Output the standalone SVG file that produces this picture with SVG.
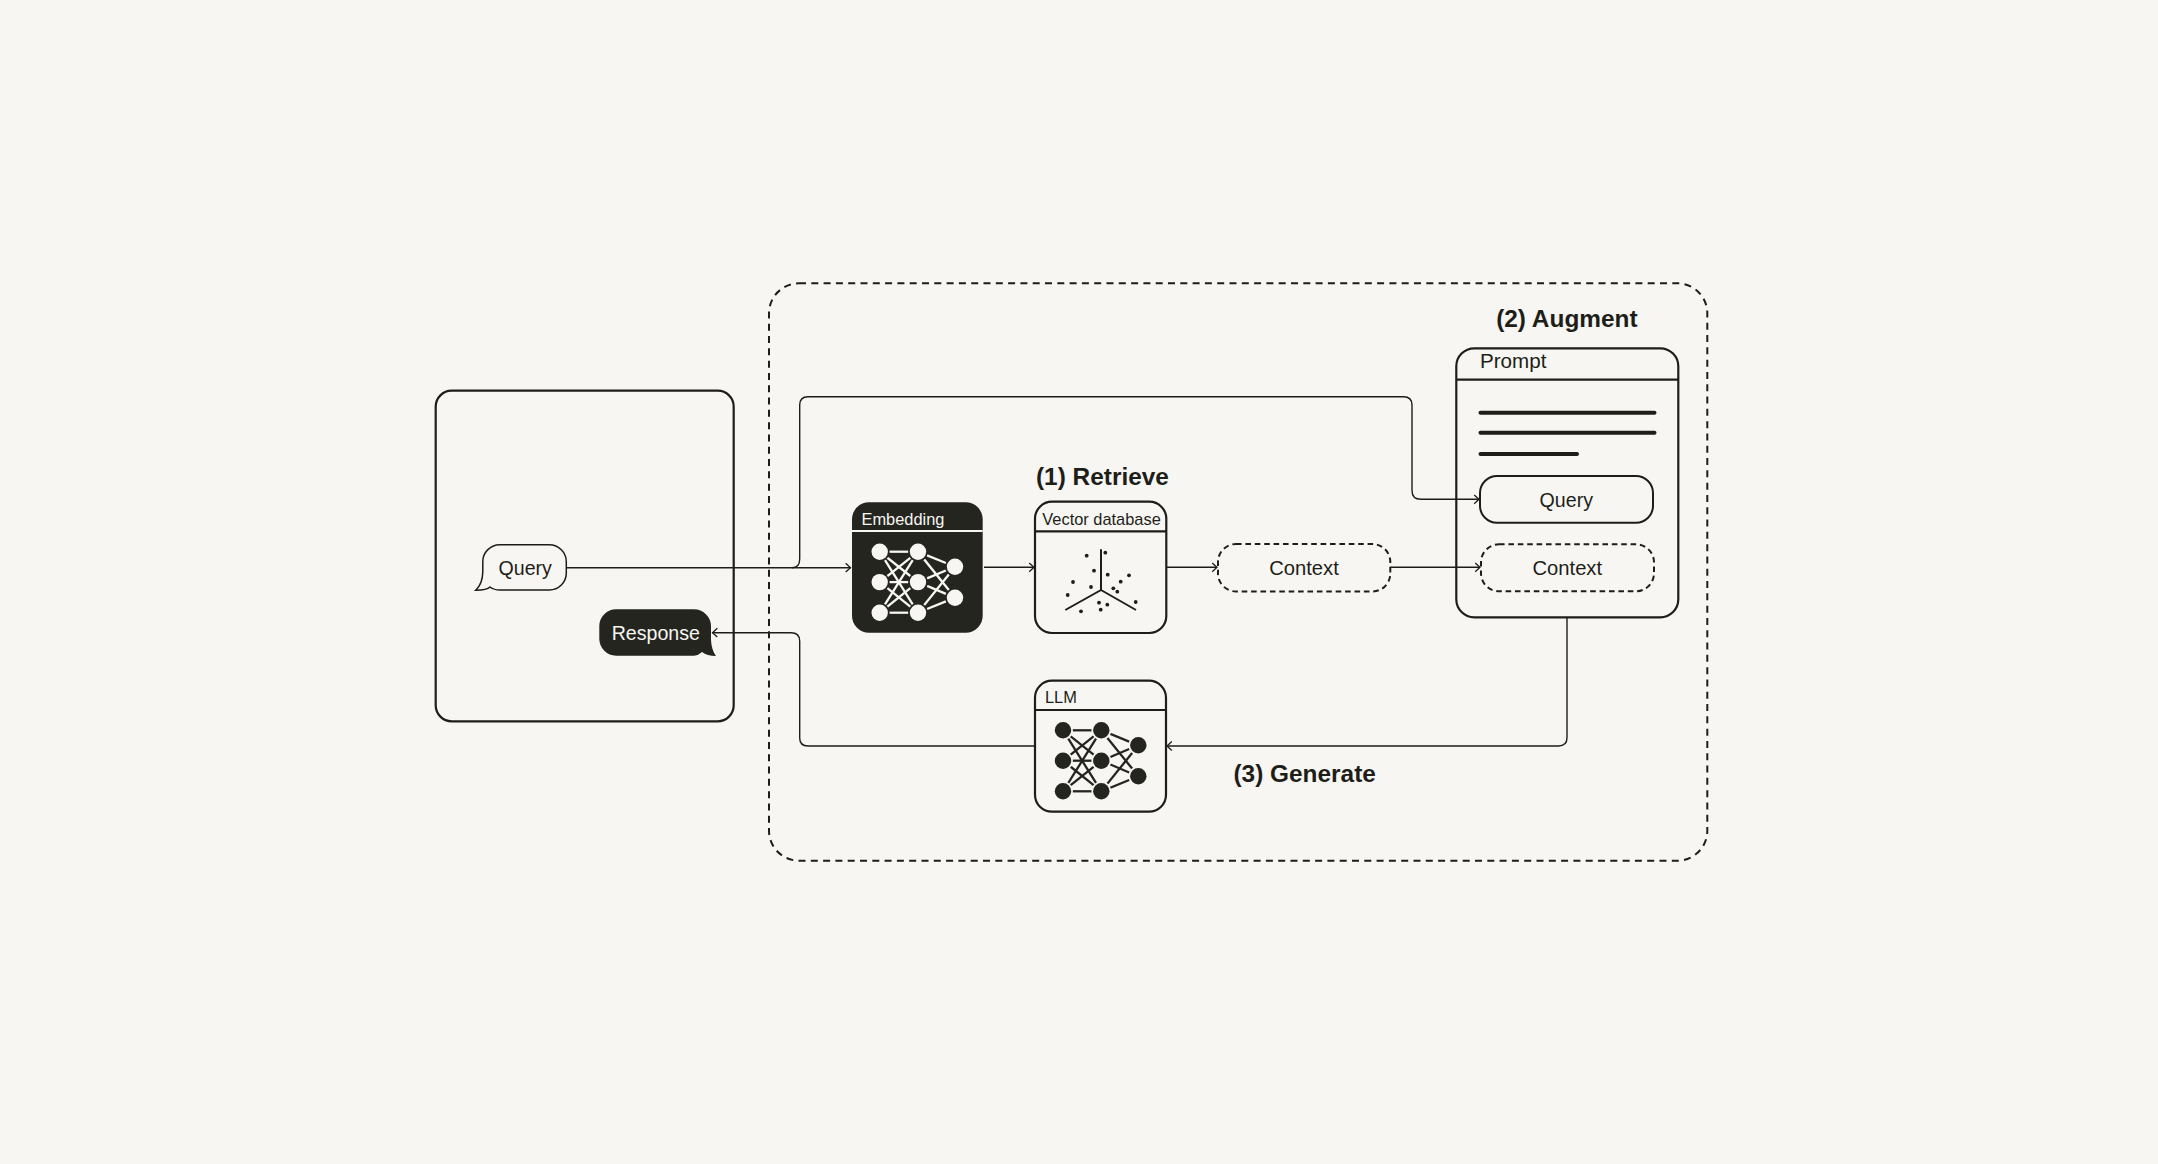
<svg xmlns="http://www.w3.org/2000/svg" width="2158" height="1164" viewBox="0 0 2158 1164">
<style>
text{font-family:"Liberation Sans",Arial,sans-serif;fill:#1e1e19}
.h{font-weight:700;font-size:24.4px}
.box{fill:none;stroke:#1e1e19;stroke-width:2.2}
.div{stroke:#1e1e19;stroke-width:2.2;fill:none}
.pill{fill:none;stroke:#1e1e19;stroke-width:2}
.bub{fill:none;stroke:#1e1e19;stroke-width:1.5}
.dash{fill:none;stroke:#1e1e19;stroke-width:2;stroke-dasharray:5.6 3.8}
.conn{fill:none;stroke:#1e1e19;stroke-width:1.4}
.arr{marker-end:url(#a)}
.bar{stroke:#1e1e19;stroke-width:4;stroke-linecap:round}
.net line{stroke:currentColor;stroke-width:2.3;stroke-linecap:square}
.net circle{fill:currentColor}
.lab{font-size:16.4px}
.t{font-size:19.6px}
.c{font-size:20.2px}
</style>
<defs>
<marker id="a" markerUnits="userSpaceOnUse" markerWidth="10" markerHeight="12" refX="7" refY="6" orient="auto"><path d="M2.2 1.6L7 6L2.2 10.4" fill="none" stroke="#1e1e19" stroke-width="1.3"/></marker>
<g id="net" class="net">
<line x1="11" y1="0" x2="27.3" y2="0"/><line x1="8.6" y1="6.8" x2="29.7" y2="23.6"/><line x1="5.9" y1="9.3" x2="32.4" y2="51.7"/>
<line x1="8.6" y1="23.6" x2="29.7" y2="6.8"/><line x1="11" y1="30.4" x2="27.3" y2="30.4"/><line x1="8.6" y1="37.2" x2="29.7" y2="54.2"/>
<line x1="5.9" y1="51.7" x2="32.4" y2="9.3"/><line x1="8.6" y1="54.2" x2="29.7" y2="37.2"/><line x1="11" y1="61" x2="27.3" y2="61"/>
<line x1="48.5" y1="4.1" x2="65.1" y2="10.9"/><line x1="45.2" y1="8.6" x2="68.4" y2="37.4"/><line x1="48.5" y1="26.2" x2="65.1" y2="19.2"/>
<line x1="48.5" y1="34.7" x2="65.1" y2="41.7"/><line x1="45.2" y1="52.4" x2="68.4" y2="23.6"/><line x1="48.5" y1="56.9" x2="65.1" y2="50.1"/>
<circle cx="0" cy="0" r="8.2"/><circle cx="0" cy="30.4" r="8.2"/><circle cx="0" cy="61" r="8.2"/>
<circle cx="38.3" cy="0" r="8.2"/><circle cx="38.3" cy="30.4" r="8.2"/><circle cx="38.3" cy="61" r="8.2"/>
<circle cx="75.3" cy="15" r="8.2"/><circle cx="75.3" cy="46" r="8.2"/>
</g>
</defs>
<rect width="2158" height="1164" fill="#f7f6f2"/>
<g id="rag-boundary"><rect x="769" y="283.3" width="938.3" height="577.4" rx="30" fill="none" stroke="#1e1e19" stroke-width="2" stroke-dasharray="7 5.3"/></g>
<g id="client"><rect class="box" x="435.7" y="390.7" width="298" height="330.6" rx="16"/></g>
<g id="query-bubble">
<path class="bub" d="M500 544.7H549.3A17 17 0 0 1 566.3 561.7V573A17 17 0 0 1 549.3 590H500Q494 590 490 587Q487 590 475.7 590.3Q482.5 584 482.8 572V561.7A17 17 0 0 1 500 544.7Z"/>
<text class="t" x="498.5" y="574.7">Query</text>
</g>
<g id="response-bubble">
<path fill="#252520" d="M616 609.3H694A17 17 0 0 1 711 626V640Q711.5 650 716 656Q707 656 702 652Q698 655.7 694 655.7H616A17 17 0 0 1 599.3 639V626A17 17 0 0 1 616 609.3Z"/>
<text class="t" x="611.7" y="640" style="fill:#f7f6f2">Response</text>
</g>
<g id="embedding">
<rect x="852" y="502.3" width="130.7" height="130.4" rx="17" fill="#252520"/>
<line x1="852" y1="531" x2="982.7" y2="531" stroke="#f7f6f2" stroke-width="2"/>
<text class="lab" x="861.5" y="524.7" style="fill:#f7f6f2">Embedding</text>
<use href="#net" x="879.7" y="551.7" color="#f7f6f2"/>
</g>
<g id="vector-database">
<rect class="box" x="1035" y="501.7" width="131.3" height="131.3" rx="17"/>
<line class="div" x1="1035" y1="531.3" x2="1166.3" y2="531.3"/>
<text class="lab" x="1042.3" y="524.7">Vector database</text>
<path d="M1101 549.3V590L1065.3 610M1101 590L1136 610" fill="none" stroke="#1e1e19" stroke-width="2"/>
<g fill="#1e1e19">
<circle cx="1086.7" cy="555.7" r="1.9"/><circle cx="1105.3" cy="552.7" r="1.9"/><circle cx="1094" cy="570.7" r="1.9"/><circle cx="1107.7" cy="574.7" r="1.9"/><circle cx="1129" cy="575.3" r="1.9"/><circle cx="1120.7" cy="581.7" r="1.9"/><circle cx="1073" cy="582" r="1.9"/><circle cx="1091" cy="587" r="1.9"/><circle cx="1113.3" cy="588.3" r="1.9"/><circle cx="1117.3" cy="591.7" r="1.9"/><circle cx="1067.7" cy="595" r="1.9"/><circle cx="1099" cy="602.7" r="1.9"/><circle cx="1107.3" cy="604.7" r="1.9"/><circle cx="1100.7" cy="609.7" r="1.9"/><circle cx="1081" cy="611.3" r="1.9"/><circle cx="1135.7" cy="602" r="1.9"/>
</g>
</g>
<g id="context"><rect class="dash" x="1218" y="544" width="172.3" height="47.5" rx="18"/><text class="c" x="1304" y="575.3" text-anchor="middle">Context</text></g>
<g id="llm">
<rect class="box" x="1035" y="680.7" width="131" height="131" rx="17"/>
<line class="div" x1="1035" y1="710" x2="1166" y2="710"/>
<text class="lab" x="1045" y="702.7">LLM</text>
<use href="#net" x="1063" y="730.3" color="#252520"/>
</g>
<g id="prompt">
<rect class="box" x="1456.3" y="348.3" width="222" height="269" rx="18"/>
<line class="div" x1="1456.3" y1="379.7" x2="1678.3" y2="379.7"/>
<text x="1480" y="367.7" font-size="20.6">Prompt</text>
<line class="bar" x1="1480.5" y1="412.7" x2="1654.5" y2="412.7"/>
<line class="bar" x1="1480.5" y1="432.7" x2="1654.5" y2="432.7"/>
<line class="bar" x1="1480.5" y1="454" x2="1577" y2="454"/>
<rect class="pill" x="1480" y="476" width="173" height="46.7" rx="17"/>
<text class="t" x="1566.3" y="506.7" text-anchor="middle">Query</text>
<rect class="dash" x="1481" y="544.3" width="173" height="47" rx="18"/>
<text class="c" x="1567.3" y="575.3" text-anchor="middle">Context</text>
</g>
<g id="labels">
<text class="h" x="1036" y="485">(1) Retrieve</text>
<text class="h" x="1496.2" y="327.3">(2) Augment</text>
<text class="h" x="1233.5" y="782.3">(3) Generate</text>
</g>
<g id="connectors">
<path class="conn arr" d="M566.3 567.7H850.5"/>
<path class="conn arr" d="M792 567.7Q799.7 567.7 799.7 559V405Q799.7 396.7 808 396.7H1403.5Q1412 396.7 1412 405V490.5Q1412 499.3 1421 499.3H1479"/>
<path class="conn arr" d="M984 567.3H1034"/>
<path class="conn arr" d="M1167 567.3H1217"/>
<path class="conn arr" d="M1390.3 567.3H1480"/>
<path class="conn arr" d="M1567 617.3V737.5Q1567 746 1558.5 746H1167"/>
<path class="conn arr" d="M1035 746H808Q799.7 746 799.7 738V641Q799.7 632.7 791 632.7H712.5"/>
</g>
</svg>
